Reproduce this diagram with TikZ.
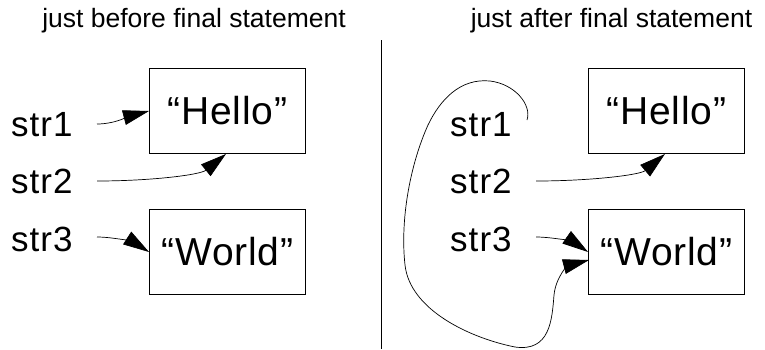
\documentclass[tikz,border=0pt]{standalone}
\usepackage{fontspec}
\setmainfont{Liberation Sans}
\newfontfamily\titlefont{Liberation Sans}
\newfontfamily\boxfont{Liberation Sans}[LetterSpace=2]
\newfontfamily\lblfont{Liberation Sans}[LetterSpace=3]
\usetikzlibrary{arrows.meta}
\begin{document}
\begin{tikzpicture}[x=1pt,y=-1pt,
  box/.style={draw,line width=0.9pt,minimum width=156pt,minimum height=85pt,inner sep=0pt,font=\boxfont\fontsize{39}{46}\selectfont},
  lbl/.style={anchor=west,inner sep=0pt,font=\lblfont\fontsize{35}{42}\selectfont},
  ttl/.style={anchor=base,inner sep=0pt,font=\titlefont\fontsize{26.5}{32}\selectfont},
  ptr/.style={line width=0.7pt,-{Triangle[length=26pt,width=15pt]}},
  divider/.style={line width=0.9pt}]
\useasboundingbox (0,0) rectangle (765,349);
% titles
\node[ttl] (t1) at (194,27) {just before final statement};
\node[ttl] (t2) at (611.5,27) {just after final statement};
\coordinate (dtop) at (381,40);
\coordinate (dbot) at (381,349);
\draw[divider] (dtop) -- (dbot);
% left panel
\node[box] (h1) at (227.5,111) {“Hello”};
\node[box] (w1) at (227.5,252) {“World”};
\node[lbl] (s1) at (11,125) {str1};
\node[lbl] (s2) at (11,181) {str2};
\node[lbl] (s3) at (11,239) {str3};
\coordinate (s1e) at (97,124);
\coordinate (s2e) at (97,181);
\coordinate (s3e) at (97,237);
\draw[ptr] (s1e) .. controls (115,124) and (130,116) .. (h1.west);
\draw[ptr] (s2e) .. controls (150,181) and (200,175) .. (h1.south -| 226,0);
\draw[ptr] (s3e) .. controls (115,237) and (135,243) .. (w1.west);
% right panel
\node[box] (h2) at (666.5,111) {“Hello”};
\node[box] (w2) at (666.5,252) {“World”};
\node[lbl] (r1) at (450,125) {str1};
\node[lbl] (r2) at (450,181) {str2};
\node[lbl] (r3) at (450,239) {str3};
\coordinate (r2e) at (536,181);
\coordinate (r3e) at (536,237);
\coordinate (loopstart) at (527,120);
\coordinate (w2in) at (589,260);
\draw[ptr] (r2e) .. controls (590,181) and (640,175) .. (h2.south -| 665,0);
\draw[ptr] (r3e) .. controls (555,237) and (575,243) .. (w2.west);
\draw[ptr] (loopstart) .. controls (532,105) and (515,84) .. (490,81)
  .. controls (460,78) and (440,100) .. (428,125)
  .. controls (410,165) and (400,220) .. (405,265)
  .. controls (410,310) and (470,338) .. (515,347)
  .. controls (550,352) and (552,320) .. (554,295)
  .. controls (556,275) and (570,265) .. (w2in);
\end{tikzpicture}
\end{document}
